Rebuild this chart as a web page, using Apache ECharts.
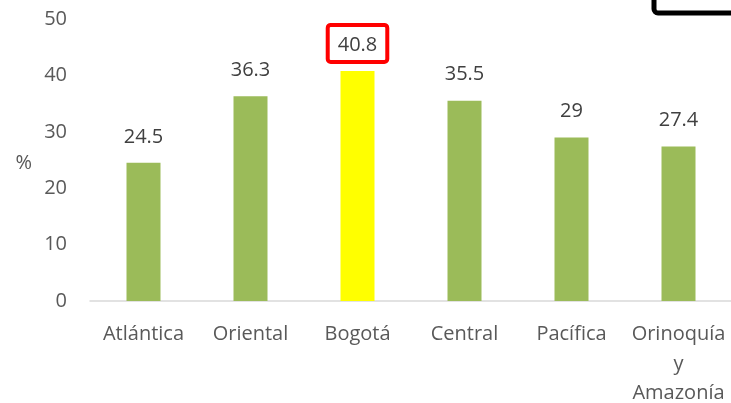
<!DOCTYPE html>
<html><head><meta charset="utf-8">
<script src="https://cdn.jsdelivr.net/npm/echarts@6/dist/echarts.min.js"></script>
<style>html,body{margin:0;padding:0;background:#fff}#c{width:731px;height:403px}</style>
</head><body><div id="c"></div>
<script>
const categories = ['Atlántica', 'Oriental', 'Bogotá', 'Central', 'Pacífica', 'Orinoquía\ny\nAmazonía'];
const values = [24.5, 36.3, 40.8, 35.5, 29, 27.4];
const highlight = 'Bogotá';
const yTicks = { min: 0, max: 50, interval: 10 };
const FONT = '"Open Sans", sans-serif';

const chart = echarts.init(document.getElementById('c'), null, { renderer: 'canvas' });
chart.setOption({
  animation: false,
  grid: { left: 90, top: 19, width: 642, bottom: 102, containLabel: false, outerBoundsMode: 'none' },
  xAxis: {
    type: 'category', data: categories,
    axisLine: { lineStyle: { color: '#d9d9d9', width: 1.5 } },
    axisTick: { show: false },
    axisLabel: { color: '#595959', fontFamily: FONT, fontSize: 20, margin: 19, lineHeight: 29.5, interval: 0 }
  },
  yAxis: {
    type: 'value', min: yTicks.min, max: yTicks.max, interval: yTicks.interval,
    name: '%', nameLocation: 'middle', nameGap: 58, nameRotate: 0,
    nameTextStyle: { color: '#595959', fontFamily: FONT, fontSize: 20, verticalAlign: 'top', lineHeight: 6 },
    axisLine: { show: false }, axisTick: { show: false }, splitLine: { show: false },
    axisLabel: { color: '#595959', fontFamily: FONT, fontSize: 20, margin: 23 }
  },
  series: [{
    type: 'bar', barWidth: 34,
    data: values.map((v, i) => {
      const hi = categories[i] === highlight;
      return {
        value: v,
        itemStyle: { color: hi ? '#ffff00' : '#9bbb59' },
        label: hi ? { borderColor: '#ff0000', borderWidth: 4, borderRadius: 3, padding: [10, 10, 7, 10], distance: 9 } : {}
      };
    }),
    label: { show: true, position: 'top', distance: 16, color: '#404040', fontFamily: FONT, fontSize: 20 }
  }],
  graphic: [{
    type: 'rect', shape: { x: 654, y: -20, width: 120, height: 33, r: 4 },
    style: { fill: 'none', stroke: '#000', lineWidth: 5 }
  }]
});
</script></body></html>
